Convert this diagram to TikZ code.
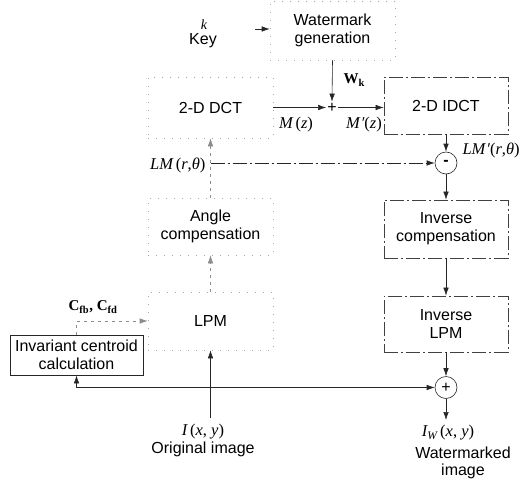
\documentclass[tikz,border=0pt]{standalone}
\usepackage{fontspec}
\setmainfont{Liberation Sans}
\newfontfamily\serf{Liberation Serif}
\usetikzlibrary{arrows.meta}
\begin{document}
\begin{tikzpicture}[x=1pt,y=-1pt,
  font=\fontsize{16}{18}\selectfont,
  rbox/.style={draw=black!75, line width=0.7pt, dash pattern=on 14pt off 3pt on 2pt off 3pt, minimum width=125pt, align=center, inner sep=0pt},
  lbox/.style={draw=black!35, line width=0.6pt, dash pattern=on 1pt off 7pt, minimum width=125pt, align=center, inner sep=0pt},
  sbox/.style={draw=black!85, line width=0.8pt, align=center, inner sep=0pt},
  sumnode/.style={circle, draw=black!85, line width=0.6pt, minimum size=22pt, inner sep=0pt},
  arr/.style={-{Latex[length=8pt,width=5.5pt]}, line width=0.6pt, draw=black!85},
  faint/.style={draw=black!45, dash pattern=on 3pt off 4pt},
  dline/.style={dash pattern=on 14pt off 3pt on 2pt off 3pt},
  ml/.style={font=\serf\fontsize{16.5}{18}\selectfont},
  bl/.style={font=\serf\bfseries\fontsize{15}{17}\selectfont}
]
\useasboundingbox (0,0) rectangle (522,479);

% boxes
\node[lbox, minimum height=59pt] (wg) at (332.5,30.5) {Watermark\\generation};
\node[inner sep=0pt, font=\serf\itshape\fontsize{14}{14}\selectfont] (kk) at (204,25) {k};
\node[inner sep=0pt] (key) at (203,41) {Key};
\coordinate (keyout) at (255,29);
\node[inner sep=1pt] (plus) at (332,107.5) {+};
\node[bl, anchor=west] (wk) at (340,80) {W\textsubscript{k}};
\node[lbox, minimum height=61pt] (dct) at (210.5,107.5) {2-D DCT};
\node[rbox, minimum width=124pt, minimum height=57pt] (idct) at (446,105.5) {2-D IDCT};
\node[ml] (mz) at (296,125) {{\itshape M}\,({\itshape z})};
\node[ml] (mpz) at (364,125) {{\itshape M\kern1pt\char"2032}({\itshape z})};
\node[lbox, minimum height=57pt] (ang) at (210.5,226.5) {Angle\\compensation};
\node[lbox, minimum height=58pt] (lpm) at (210.5,321) {LPM};
\node[sumnode] (minus) at (446,163) {\textbf{-}};
\node[rbox, minimum width=124pt, minimum height=58pt] (icomp) at (446,229) {Inverse\\compensation};
\node[rbox, minimum width=124pt, minimum height=56pt] (ilpm) at (446,324) {Inverse\\LPM};
\node[sumnode] (psum) at (446,387.5) {+};
\node[sbox, minimum width=133pt, minimum height=40pt] (icc) at (76.5,355) {Invariant centroid\\calculation};

% labels
\node[ml, anchor=east] (lm) at (209,165) {{\itshape LM}\,({\itshape r},{\itshape θ})};
\node[ml, anchor=west] (lmp) at (459,150) {{\itshape LM\kern1pt\char"2032}({\itshape r},{\itshape θ})};
\node[bl] (cfb) at (93,307) {C\textsubscript{fb}, C\textsubscript{fd}};
\node[ml, inner sep=0pt] (ixy) at (203,432) {{\itshape I}\,({\itshape x}, {\itshape y})};
\node[inner sep=0pt] (orig) at (203,449) {Original image};
\node[ml, inner sep=0pt] (iw) at (448,433) {{\itshape I\textsubscript{W}}\,({\itshape x}, {\itshape y})};
\node[align=center, inner sep=0pt, font=\fontsize{16}{17}\selectfont] (wimg) at (463,463) {Watermarked\\image};

% connectors
\coordinate (jlm) at (210.5,163);
\coordinate (origtop) at (210.5,418);
\coordinate (jb) at (210.5,387.5);
\coordinate (iwtop) at (446,420);
\draw[arr] (keyout) -- (wg.west |- keyout);
\draw[arr] (wg.south) -- (plus.north);
\draw[arr] (dct.east) -- (plus.west);
\draw[arr] (plus.east) -- (idct.west |- plus.east);
\draw[arr, faint] (lpm.north) -- (ang.south);
\draw[arr, faint] (ang.north) -- (dct.south);
\draw[arr, dline] (jlm) -- (minus.west);
\draw[arr] (idct.south) -- (minus.north);
\draw[arr] (minus.south) -- (icomp.north);
\draw[arr] (icomp.south) -- (ilpm.north);
\draw[arr] (ilpm.south) -- (psum.north);
\draw[arr] (psum.south) -- (iwtop);
\draw[arr] (origtop) -- (lpm.south);
\draw[arr] (jb) -| (icc.south);
\draw[arr] (jb) -- (psum.west);
\draw[arr, faint] (icc.north) |- (lpm.west);
\end{tikzpicture}
\end{document}
